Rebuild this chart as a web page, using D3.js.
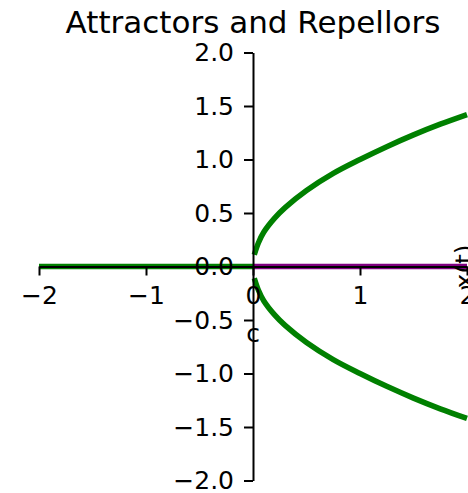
<!DOCTYPE html>
<html>
<head>
<meta charset="utf-8">
<script src="https://cdn.jsdelivr.net/npm/d3@7"></script>
<style>
  html, body { margin: 0; padding: 0; background: #fff; }
  svg { display: block; font-family: "DejaVu Sans", sans-serif; }
</style>
</head>
<body>
<svg id="chart" width="468" height="493"></svg>
<script>
// Bifurcation diagram: stable branches (green) and unstable branch (purple)
const xTicks = [-2, -1, 0, 1, 2];
const yTicks = [-2.0, -1.5, -1.0, -0.5, 0.0, 0.5, 1.0, 1.5, 2.0];

// Stable fixed point for c < 0
const stableLeftC = [-2, 0];
const stableLeftX = [0, 0];

// Unstable fixed point for c > 0
const unstableC = [0, 2];
const unstableX = [0, 0];

// Stable branches for c > 0
const branchC     = [0.012, 0.05, 0.1, 0.2, 0.3, 0.5, 0.75, 1.0, 1.25, 1.5, 1.75, 2.0];
const upperBranch = [0.11, 0.22, 0.32, 0.45, 0.55, 0.71, 0.87, 1.0, 1.12, 1.23, 1.33, 1.42];
const lowerBranch = [-0.11, -0.22, -0.32, -0.45, -0.55, -0.71, -0.87, -1.0, -1.12, -1.23, -1.33, -1.42];

const svg = d3.select("#chart");
const plotLeft = 39, plotRight = 467, plotTop = 52.5, plotBottom = 480.5;

const x = d3.scaleLinear().domain([-2, 2]).range([plotLeft, plotRight]);
const y = d3.scaleLinear().domain([-2, 2]).range([plotBottom, plotTop]);

const line = d3.line().x(d => x(d[0])).y(d => y(d[1]));
const smooth = d3.line().x(d => x(d[0])).y(d => y(d[1])).curve(d3.curveCatmullRom.alpha(0.5));

const plot = svg.append("g");
const lw = 5.5;

plot.append("path")
  .attr("d", line(stableLeftC.map((c, i) => [c, stableLeftX[i]])))
  .attr("fill", "none").attr("stroke", "green").attr("stroke-width", lw);

plot.append("path")
  .attr("d", line(unstableC.map((c, i) => [c, unstableX[i]])))
  .attr("fill", "none").attr("stroke", "purple").attr("stroke-width", lw);

plot.append("path")
  .attr("d", smooth(branchC.map((c, i) => [c, upperBranch[i]])))
  .attr("fill", "none").attr("stroke", "green").attr("stroke-width", lw);

plot.append("path")
  .attr("d", smooth(branchC.map((c, i) => [c, lowerBranch[i]])))
  .attr("fill", "none").attr("stroke", "green").attr("stroke-width", lw);

// Axes crossing at the origin
const tickFmtX = d => d < 0 ? "\u2212" + Math.abs(d) : String(d);
const tickFmtY = d => (d < 0 ? "\u2212" : "") + Math.abs(d).toFixed(1);

const xAxis = d3.axisBottom(x).tickValues(xTicks).tickFormat(tickFmtX)
  .tickSize(9).tickPadding(11).tickSizeOuter(0);
const yAxis = d3.axisLeft(y).tickValues(yTicks).tickFormat(tickFmtY)
  .tickSize(9).tickPadding(10).tickSizeOuter(0);

const gx = svg.append("g").attr("transform", `translate(0,${y(0)})`).call(xAxis);
const gy = svg.append("g").attr("transform", `translate(${x(0)},0)`).call(yAxis);

[gx, gy].forEach(g => {
  g.select(".domain").attr("stroke", "#000").attr("stroke-width", 2);
  g.selectAll(".tick line").attr("stroke", "#000").attr("stroke-width", 2);
  g.selectAll(".tick text").attr("fill", "#000")
    .style("font-family", "DejaVu Sans").style("font-size", "25px");
});

// Title and axis labels
svg.append("text")
  .attr("x", (plotLeft + plotRight) / 2).attr("y", 33)
  .attr("text-anchor", "middle")
  .style("font-size", "31px")
  .text("Attractors and Repellors");

svg.append("text")
  .attr("x", x(0)).attr("y", 342)
  .attr("text-anchor", "middle")
  .style("font-size", "25px")
  .text("c");

svg.append("text")
  .attr("transform", `translate(473,${y(0)}) rotate(-90)`)
  .attr("text-anchor", "middle")
  .style("font-size", "25px")
  .text("x(t)");
</script>
</body>
</html>
